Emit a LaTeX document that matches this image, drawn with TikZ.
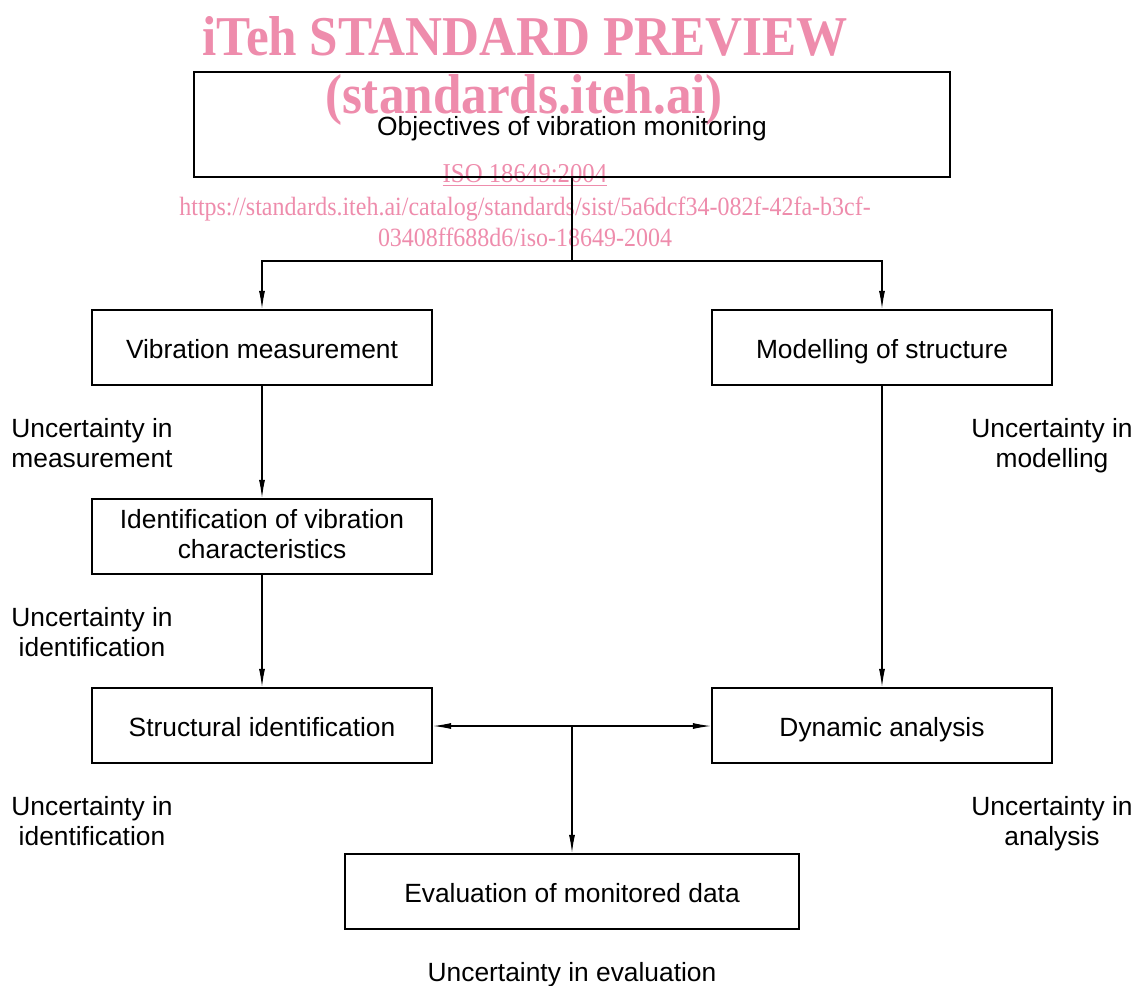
\documentclass[tikz,border=0pt]{standalone}
\usepackage{fontspec}
\setmainfont{Liberation Sans}
\newfontfamily\wmfont{Liberation Serif}
\usetikzlibrary{arrows.meta}
\definecolor{wmpink}{RGB}{238,140,172}
\tikzset{>={Latex[length=3.6mm,width=1.2mm]}}

\begin{document}
\begin{tikzpicture}[x=0.02cm,y=-0.02cm]
                        % coordinates in pixels of the original figure, y grows downwards
                        \tikzstyle{every node}=[font=\fontsize{15}{17}\selectfont, align=center]
                        \tikzstyle{box}=[draw=black, line width=1.3pt, minimum width=6.8cm, minimum height=1.5cm, inner sep=0pt]
                        \tikzstyle{oneline}=[text height=13.5pt, text depth=1.5pt]
                        \tikzstyle{flow}=[black, ->, line width=0.6pt]
                        \tikzstyle{wm}=[text=wmpink, xscale=0.91]
                        \useasboundingbox (0,0) rectangle (1136,985);

                        % watermark
                        \node[wm, font=\wmfont\bfseries\fontsize{32}{36}\selectfont] (wmtitle) at (525,36) {iTeh STANDARD PREVIEW};
                        \node[wm, font=\wmfont\bfseries\fontsize{32}{36}\selectfont] (wmsite) at (524,100) {(standards.iteh.ai)};
                        \node[wm, font=\wmfont\fontsize{15.5}{18}\selectfont] (wmiso) at (525,175) {\underline{ISO 18649:2004}};
                        \node[wm, font=\wmfont\fontsize{15}{17.6}\selectfont] (wmurl) at (525,222) {https://standards.iteh.ai/catalog/standards/sist/5a6dcf34-082f-42fa-b3cf-\\03408ff688d6/iso-18649-2004};

                        % boxes
                        \node[box, oneline, minimum width=15.12cm, minimum height=2.1cm] (obj) at (572,124.5) {Objectives of vibration monitoring};
                        \node[box, oneline] (meas) at (262,347.5) {Vibration measurement};
                        \node[box, oneline] (model) at (882,347.5) {Modelling of structure};
                        \node[box, text depth=2.8pt] (ident) at (262,536.5) {Identification of vibration\\characteristics};
                        \node[box, oneline] (struct) at (262,725.5) {Structural identification};
                        \node[box, oneline] (dyn) at (882,725.5) {Dynamic analysis};
                        \node[box, oneline, minimum width=9.08cm] (eval) at (572,891.5) {Evaluation of monitored data};

                        % uncertainty labels
                        \node (umeas) at (92,443) {Uncertainty in\\measurement};
                        \node (umodel) at (1052,446) {Uncertainty in\\modelling};
                        \node (uident) at (92,632) {Uncertainty in\\identification};
                        \node (ustruct) at (92,821) {Uncertainty in\\identification};
                        \node (udyn) at (1052,824) {Uncertainty in\\analysis};
                        \node (ueval) at (572,975) {Uncertainty in evaluation};

                        % connectors
                        \coordinate (split) at (572,261);
                        \coordinate (join) at (572,726);
                        \draw[line width=0.6pt] (obj.south) -- (split);
                        \draw[flow] (split) -| (meas.north);
                        \draw[flow] (split) -| (model.north);
                        \draw[flow] (meas) -- (ident);
                        \draw[flow] (ident) -- (struct);
                        \draw[flow] (model) -- (dyn);
                        \draw[flow] (join) -- (struct.east |- join);
                        \draw[flow] (join) -- (dyn.west |- join);
                        \draw[flow] (join) -- (eval.north);
                \end{tikzpicture}
\end{document}
